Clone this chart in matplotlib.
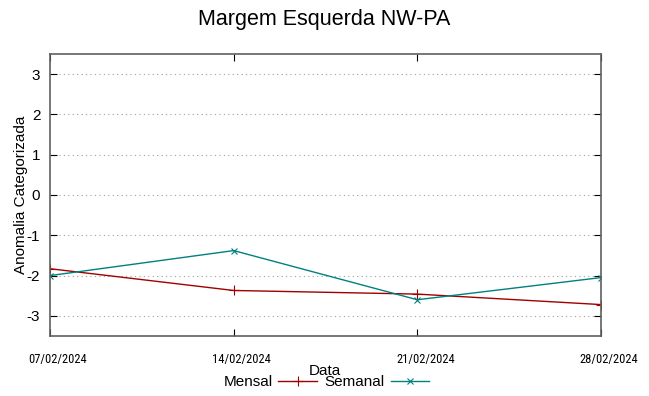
import numpy as np
import matplotlib
matplotlib.use("Agg")
import matplotlib.pyplot as plt
import matplotlib.transforms as mtransforms
from datetime import datetime

plt.rcParams['font.family'] = ['Liberation Sans', 'DejaVu Sans']
plt.rcParams['axes.unicode_minus'] = False

datas = ["07/02/2024", "14/02/2024", "21/02/2024", "28/02/2024"]
mensal = [-1.83, -2.37, -2.46, -2.72]
semanal = [-2.0, -1.38, -2.6, -2.05]
yticks = [-3, -2, -1, 0, 1, 2, 3]

x = [datetime.strptime(d, "%d/%m/%Y") for d in datas]

fig = plt.figure(figsize=(6.49, 3.96), dpi=100)
ax = fig.add_axes([50/649, 60/396, 551/649, 282/396])

ax.plot(x, mensal, color='#a00000', lw=1, marker='+', ms=7, mew=0.8, label='Mensal')
ax.plot(x, semanal, color='#008080', lw=1, marker='x', ms=5, mew=0.8, label='Semanal')

ax.set_xlim(x[0], x[-1])
ax.set_ylim(-3.5, 3.5)
ax.set_yticks(yticks)
ax.set_xticks(x)
ax.set_xticklabels(datas, fontsize=9, family=['Roboto Condensed', 'Liberation Sans'])
ax.tick_params(axis='x', pad=12)
ax.tick_params(axis='y', labelsize=11, pad=7)
ax.tick_params(direction='in', top=True, right=True, length=5, width=0.8, colors='black')
ax.grid(axis='y', linestyle=(0, (1, 3)), color='#a0a0a0', lw=0.8)
for s in ax.spines.values():
    s.set_color('#606060')
    s.set_linewidth(1.2)

# gnuplot puts the date labels a bit right of the tick
shift = mtransforms.ScaledTranslation(8/100, 0, fig.dpi_scale_trans)
for lbl in ax.get_xticklabels():
    lbl.set_transform(lbl.get_transform() + shift)

ax.set_ylabel('Anomalia Categorizada', fontsize=11, labelpad=-1)
fig.text(0.5, 376/396, 'Margem Esquerda NW-PA', ha='center', va='center', fontsize=15.5)
fig.text(325/649, 1 - 371/396, 'Data', ha='center', va='center', fontsize=11)

fig.legend(loc='center', bbox_to_anchor=(326/649, 1 - 382/396), ncol=2, frameon=False,
           markerfirst=False, fontsize=11, handlelength=2.5, columnspacing=0.5,
           handletextpad=0.4, borderpad=0)

fig.savefig('out.png', dpi=100)
